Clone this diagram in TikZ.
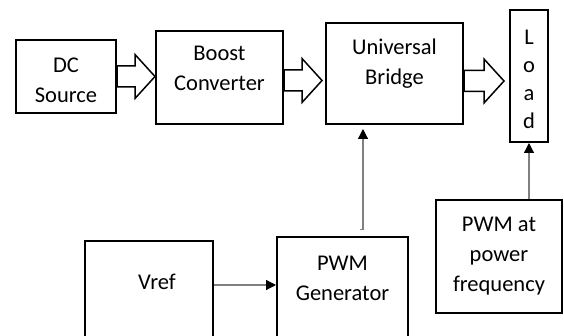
\documentclass[tikz,border=0pt]{standalone}
\usepackage{fontspec}
\setmainfont{Carlito}
\usetikzlibrary{arrows.meta, positioning, calc}

\begin{document}
\begin{tikzpicture}[
    x=0.5pt, y=-0.5pt,
    font=\fontsize{11.25pt}{15pt}\selectfont,
    blk/.style={rectangle, draw, line width=1pt, inner sep=0pt},
    txt/.style={align=center, inner sep=0pt},
    thinarr/.style={draw=gray, line width=0.6pt, -{Triangle[length=5pt, width=5pt, color=black]}},
    bigarr/.style={draw, line width=0.75pt, line join=miter,
        to path={let \p1=(\tikztostart), \p2=(\tikztotarget) in
            (\x1,\y1+5.25pt) -- (\x2-10pt,\y1+5.25pt) -- (\x2-10pt,\y1+11pt) -- (\x2,\y1)
            -- (\x2-10pt,\y1-11pt) -- (\x2-10pt,\y1-5.25pt) -- (\x1,\y1-5.25pt) -- cycle}},
]
\clip (0,0) rectangle (564,336);

% power path
\node[blk, minimum width=50pt, minimum height=36.5pt] (dc) at (66,76.5) {};
\node[txt] (dctxt) at (66,80) {DC\\Source};
\node[blk, minimum width=63.5pt, minimum height=46.5pt] (boost) at (219.5,77.5) {};
\node[txt] (boosttxt) at (219.5,68.5) {Boost\\Converter};
\node[blk, minimum width=68.5pt, minimum height=50.5pt] (bridge) at (394.5,73.5) {};
\node[txt] (bridgetxt) at (394.5,64) {Universal\\Bridge};
\node[blk, minimum width=19pt, minimum height=66pt] (load) at (529,76) {};
\node[txt, font=\fontsize{11.25pt}{14pt}\selectfont] (loadtxt) at (529,79.5) {L\\o\\a\\d};

% control path
\node[blk, minimum width=64pt, minimum height=54.5pt] (vref) at (149,295.5) {};
\node[txt] (vreftxt) at (157,282) {Vref};
\node[blk, minimum width=65.5pt, minimum height=56.25pt] (pwmgen) at (342.5,293.75) {};
\node[txt] (pwmgentxt) at (342.5,278) {PWM\\Generator};
\node[blk, minimum width=63pt, minimum height=56.5pt, align=center] (pwmat) at (499,256.5) {PWM at\\power\\frequency};

% block arrows
\draw[bigarr] (dc.east) to (boost.west);
\draw[bigarr] ($(boost.east)+(0,3)$) to ($(bridge.west)+(-3,0)$);
\draw[bigarr] ($(bridge.east)+(0,7.5)$) to ($(load.west)+(-5,0)$);

% signal arrows
\coordinate (vout) at ($(vref.east)+(0,-10.5)$);
\draw[thinarr] (vout) -- (vout -| pwmgen.west);
\coordinate (fb) at ($(pwmgen.north)+(20.5,-7)$);
\draw[thinarr] ($(fb)+(-3,0)$) -- (fb) -- ($(fb |- bridge.south)+(0,4)$);
\draw[thinarr] (load.south |- pwmat.north) -- (load.south);

\end{tikzpicture}
\end{document}
